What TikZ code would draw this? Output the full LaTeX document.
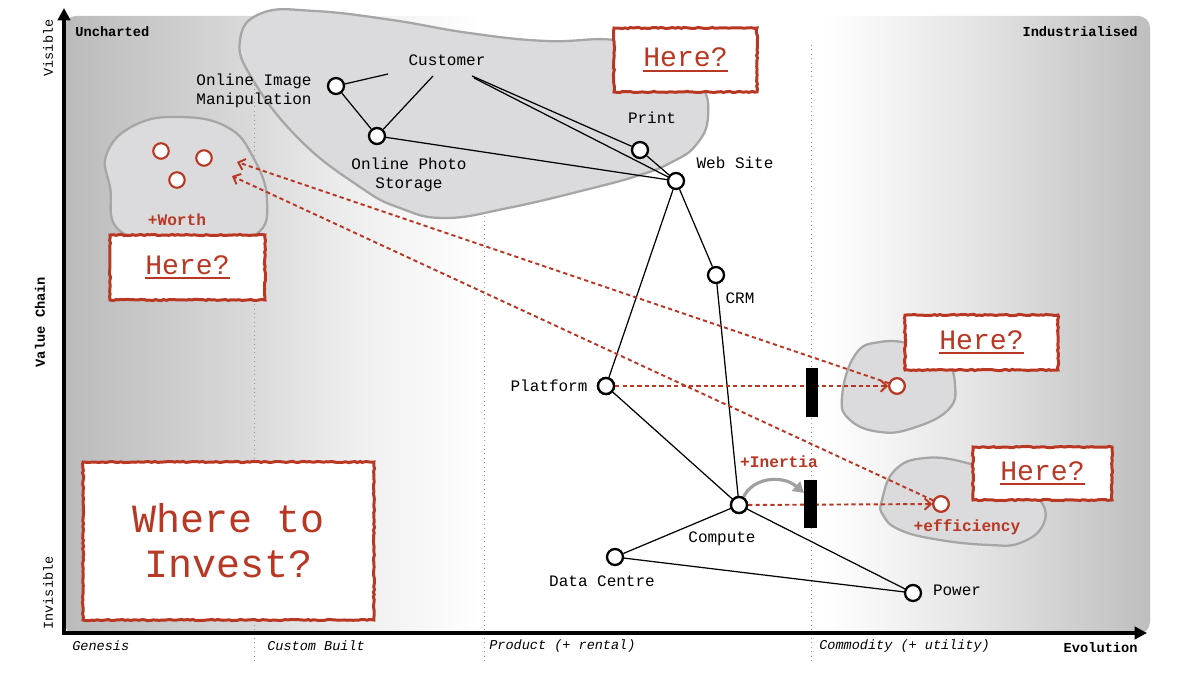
\documentclass[tikz,border=0pt]{standalone}
\usepackage{fontspec}
\setmainfont{Liberation Mono}
\usetikzlibrary{arrows.meta,decorations.pathmorphing}
\definecolor{wred}{RGB}{184,56,36}
\definecolor{blobf}{RGB}{219,219,221}
\definecolor{blobd}{RGB}{166,166,166}
\definecolor{dotg}{RGB}{150,150,150}
\definecolor{bga}{RGB}{186,186,186}
\definecolor{bgb}{RGB}{218,218,218}
\definecolor{bgc}{RGB}{238,238,238}
\definecolor{bgd}{RGB}{226,226,226}
\definecolor{bge}{RGB}{190,190,190}
\definecolor{arrg}{RGB}{160,160,160}
\newcommand{\hereul}[1]{\leavevmode\setbox0=\hbox{#1}\rlap{\color{wred}\rule[-2.8pt]{\wd0}{1.1pt}}\box0}
\begin{document}
\begin{tikzpicture}[x=0.02cm,y=-0.02cm,
 cnode/.style={circle,draw=black,fill=white,line width=1.3pt,minimum size=0.32cm,inner sep=0pt},
 rnode/.style={circle,draw=wred,fill=white,line width=1.2pt,minimum size=0.31cm,inner sep=0pt},
 lbl/.style={font=\fontsize{9.1}{10.8}\selectfont,inner sep=0pt},
 small/.style={font=\fontsize{7.7}{9}\selectfont,inner sep=0pt},
 smallb/.style={font=\fontsize{7.8}{9}\selectfont\bfseries,inner sep=0pt},
 smalli/.style={font=\fontsize{7.7}{9}\selectfont\itshape,inner sep=0pt},
 redlbl/.style={font=\fontsize{9.2}{11}\selectfont\bfseries,text=wred,inner sep=0pt},
 link/.style={draw=black,line width=0.7pt},
 reddash/.style={draw=wred,line width=1.1pt,dash pattern=on 2.4pt off 1.8pt},
 redarrow/.style={reddash,-{Straight Barb[length=3.5pt,width=6.5pt,line width=1.1pt]}},
 blob/.style={fill=blobf,draw=blobd,line width=1.3pt},
 herebox/.style={draw=wred,fill=white,line width=1.7pt,decorate,decoration={random steps,segment length=1.6pt,amplitude=0.35pt},text=wred,inner sep=0pt},
 herefont/.style={font=\fontsize{16}{18}\selectfont},
 bar/.style={fill=black,inner sep=0pt,minimum width=0.25cm,minimum height=0.98cm},
 vline/.style={draw=dotg,line width=0.5pt,dotted},
 axis/.style={draw=black,line width=1.8pt,-{Triangle[length=7pt,width=7pt]}}
]
\useasboundingbox (0,0) rectangle (1200,675);
% background
\begin{scope}
\clip[rounded corners=6.8pt] (64,16) rectangle (1150,634);
\shade[left color=bga,right color=bgb] (60,10) rectangle (254.5,640);
\shade[left color=bgb,right color=bgc] (254,10) rectangle (350.5,640);
\shade[left color=bgc,right color=white] (350,10) rectangle (480.5,640);
\fill[white] (480,10) rectangle (825.5,640);
\shade[left color=white,right color=bgd] (825,10) rectangle (985.5,640);
\shade[left color=bgd,right color=bge] (985,10) rectangle (1151,640);
\end{scope}
% evolution dividers
\draw[vline] (254,45) -- (254,662);
\draw[vline] (484,45) -- (484,662);
\draw[vline] (811,45) -- (811,662);
% blobs
\draw[blob] plot[smooth cycle,tension=0.75] coordinates {(240,40) (262,13) (315,11) (392,20) (469,33) (546,41) (615,40) (665,55) (700,83) (708,117) (696,145) (672,162) (640,175) (585,190) (508,208) (445,218) (400,208) (360,187) (300,140) (253,80)};
\draw[blob] plot[smooth cycle,tension=0.75] coordinates {(180,117) (227,127) (253,157) (267,200) (255,235) (200,245) (123,233) (110,187) (107,153) (135,125)};
\draw[blob] plot[smooth cycle,tension=0.75] coordinates {(842,397) (855,355) (880,342) (915,345) (945,360) (955,385) (948,410) (913,428) (880,432) (850,420)};
\draw[blob] plot[smooth cycle,tension=0.75] coordinates {(882,500) (895,470) (925,458) (967,463) (1010,480) (1040,500) (1043,525) (1020,543) (990,545) (940,540) (900,530) (883,515)};
% component nodes
\node[cnode] (oim) at (336,86) {};
\node[cnode] (ops) at (377,136) {};
\node[cnode] (print) at (640,150) {};
\node[cnode] (web) at (676,181) {};
\node[cnode] (crm) at (716,275) {};
\node[cnode] (plat) at (606,386) {};
\node[cnode] (compute) at (739,505) {};
\node[cnode] (dc) at (615,557) {};
\node[cnode] (pow) at (913,593) {};
\node[rnode] (ra) at (161,151) {};
\node[rnode] (rb) at (204,158) {};
\node[rnode] (rc) at (177,180) {};
\node[rnode] (rn1) at (897,386) {};
\node[rnode] (rn2) at (941,504) {};
\coordinate (cuA) at (388,74);
\coordinate (cuB) at (433,76);
\coordinate (cuC) at (472,76);
\coordinate (cuD) at (474,78);
\coordinate (lb1) at (237,162);
\coordinate (lb2) at (232,176);
% links
\begin{scope}[on background layer/.style={}]
\draw[link] (oim) -- (cuA);
\draw[link] (ops) -- (cuB);
\draw[link] (print) -- (cuC);
\draw[link] (web) -- (cuD);
\draw[link] (oim) -- (ops);
\draw[link] (ops) -- (web);
\draw[link] (print) -- (web);
\draw[link] (web) -- (crm);
\draw[link] (web) -- (plat);
\draw[link] (crm) -- (compute);
\draw[link] (plat) -- (compute);
\draw[link] (compute) -- (dc);
\draw[link] (compute) -- (pow);
\draw[link] (dc) -- (pow);
\end{scope}
% red dashed arrows
\draw[redarrow] (plat) -- (rn1);
\draw[redarrow] (compute) -- (rn2);
\draw[redarrow] (rn1) -- (lb1);
\draw[redarrow] (rn2) -- (lb2);
% inertia bars
\node[bar] (bar1) at (812,392.5) {};
\node[bar] (bar2) at (810.5,504) {};
\draw[draw=arrg,line width=1.8pt,-{Triangle[length=6pt,width=7pt]}] (compute.60) .. controls (752,478) and (782,474) .. ([yshift=0.22cm]bar2.west);
% redraw nodes on top
\node[cnode] at (compute) {};
\node[cnode] at (plat) {};
\node[rnode] at (rn1) {};
\node[rnode] at (rn2) {};
% labels
\node[lbl] (cust) at (447,60) {Customer};
\node[lbl,align=left] at (254,91) {Online Image\\Manipulation};
\node[lbl,align=center] at (409,175) {Online Photo\\Storage};
\node[lbl] at (652,118) {Print};
\node[lbl] at (735,163) {Web Site};
\node[lbl] at (740,298) {CRM};
\node[lbl] at (549,386) {Platform};
\node[lbl] at (722,539) {Compute};
\node[lbl] at (602,581) {Data Centre};
\node[lbl] at (957,590) {Power};
\node[redlbl] at (177,220) {+Worth};
\node[redlbl] at (779,462) {+Inertia};
\node[redlbl] at (967,527) {+efficiency};
% axis labels
\node[smallb,anchor=west] at (75,32) {Uncharted};
\node[smallb,anchor=east] at (1138,32) {Industrialised};
\node[smallb,anchor=east] at (1138,648) {Evolution};
\node[smalli,anchor=west] at (72,646) {Genesis};
\node[smalli,anchor=west] at (267,646) {Custom Built};
\node[smalli,anchor=west] at (489,646) {Product (+ rental)};
\node[smalli,anchor=west] at (819,646) {Commodity (+ utility)};
\node[small,rotate=90] at (48,48) {Visible};
\node[small,rotate=90] at (48,593) {Invisible};
\node[smallb,rotate=90] at (40,322) {Value Chain};
% here boxes
\node[herebox,herefont,minimum width=2.86cm,minimum height=1.28cm] (h1) at (685.5,60) {\hereul{Here?}};
\node[herebox,herefont,minimum width=3.1cm,minimum height=1.3cm] (h2) at (187.5,267.5) {\hereul{Here?}};
\node[herebox,herefont,minimum width=3.06cm,minimum height=1.1cm] (h3) at (981.5,342.5) {\hereul{Here?}};
\node[herebox,herefont,minimum width=2.78cm,minimum height=1.06cm] (h4) at (1042.5,473.5) {\hereul{Here?}};
\node[herebox,align=center,font=\fontsize{22.8}{25.5}\selectfont,minimum width=5.82cm,minimum height=3.16cm] (inv) at (228.5,541) {Where to\\Invest?};
% axes
\coordinate (origin) at (64,633);
\coordinate (ytop) at (64,8);
\coordinate (xend) at (1147,633);
\draw[axis] ([yshift=-0.9pt]origin) -- (ytop);
\draw[axis] ([xshift=-0.9pt]origin) -- (xend);
\end{tikzpicture}
\end{document}
